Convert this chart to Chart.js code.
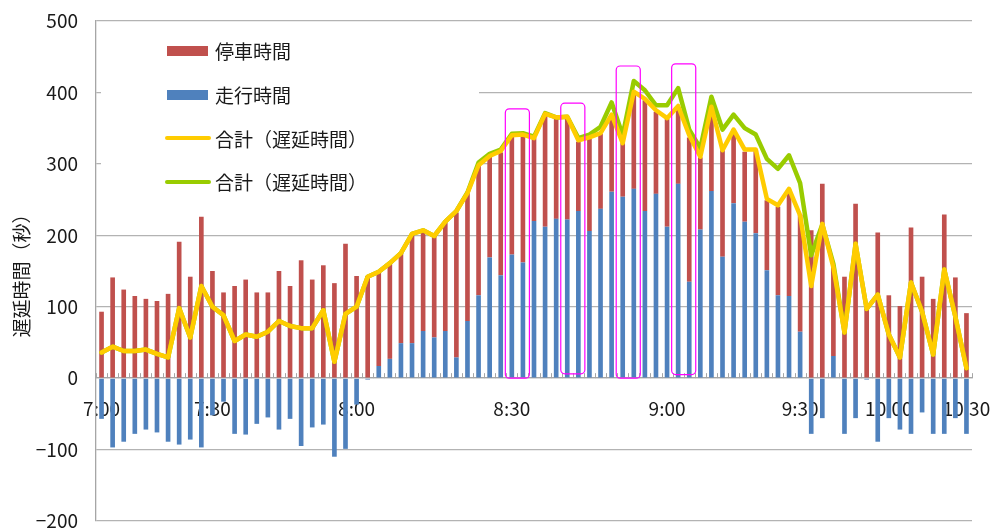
<!DOCTYPE html>
<html lang="ja">
<head>
<meta charset="utf-8">
<title>遅延時間の内訳</title>
<script src="https://cdn.jsdelivr.net/npm/chart.js@4.4.1/dist/chart.umd.min.js"></script>
<style>
  body { margin: 0; background: #fff; }
  #wrap { position: relative; width: 991px; height: 530px; }
  #legend { position: absolute; left: 165px; top: 29px; font-family: "Noto Sans CJK JP", sans-serif; font-size: 19px; color: #1a1a1a; }
  .item { display: flex; align-items: center; height: 43.7px; white-space: nowrap; }
  .box { width: 41px; height: 10px; margin: 0 7px 0 2px; }
  .line { width: 46px; height: 4px; margin-right: 4px; border-radius: 2px; }
</style>
</head>
<body>
<div id="wrap">
  <canvas id="delayChart" width="991" height="530"></canvas>
  <div id="legend"></div>
</div>
<script>
// 時刻目盛（列番号と表示文字）
const tickIndex = [0, 10, 23, 37, 51, 63, 71, 78];
const tickText = ['7:00', '7:30', '8:00', '8:30', '9:00', '9:30', '10:00', '10:30'];

// 停車時間（秒）
const stopTime = [
  93, 141, 124, 115, 111, 108, 118, 191, 142, 226,
  150, 120, 129, 138, 120, 120, 150, 129, 165, 138,
  158, 133, 188, 143, 143, 131, 134, 127, 152, 139,
  142, 152, 203, 180, 181, 141, 172, 167, 178, 116,
  156, 141, 143, 97, 129, 105, 105, 75, 133, 155,
  115, 151, 105, 202, 101, 116, 149, 103, 98, 116,
  98, 124, 149, 164, 207, 272, 125, 142, 244, 97,
  204, 116, 101, 211, 142, 111, 229, 141, 91
];

// 走行時間（秒）
const runTime = [
  -57, -97, -89, -78, -72, -76, -89, -93, -86, -97,
  -52, -33, -78, -79, -64, -55, -72, -57, -95, -69,
  -65, -110, -99, -37, -2, 17, 27, 49, 49, 66,
  57, 66, 29, 80, 116, 169, 144, 173, 162, 220,
  212, 223, 222, 234, 206, 237, 261, 254, 265, 234,
  258, 212, 272, 135, 208, 262, 170, 245, 219, 203,
  151, 116, 115, 65, -78, -56, 31, -78, -56, -2,
  -89, -56, -72, -78, -48, -78, -78, -56, -78
];

// 合計（遅延時間）黄
const totalDelay = [
  36, 44, 38, 38, 40, 34, 29, 98, 57, 129,
  100, 88, 52, 61, 58, 65, 80, 73, 70, 70,
  95, 23, 90, 100, 142, 149, 161, 175, 202, 207,
  199, 219, 234, 259, 298, 311, 318, 340, 341, 336,
  370, 365, 366, 333, 337, 343, 369, 329, 401, 391,
  375, 364, 381, 340, 310, 380, 319, 348, 320, 320,
  251, 242, 265, 228, 129, 216, 155, 64, 188, 97,
  117, 61, 29, 134, 93, 33, 152, 86, 14
];

// 合計（遅延時間）緑
const totalDelay2 = [
  36, 44, 38, 38, 40, 34, 29, 98, 57, 129,
  100, 88, 52, 61, 58, 65, 80, 73, 70, 70,
  95, 23, 90, 100, 142, 149, 161, 175, 202, 207,
  199, 219, 234, 260, 302, 314, 320, 342, 343, 338,
  371, 365, 366, 336, 341, 352, 386, 340, 416, 403,
  382, 382, 406, 348, 322, 394, 348, 369, 350, 341,
  307, 293, 312, 273, 172, 215, 160, 64, 188, 97,
  117, 61, 29, 134, 93, 33, 152, 86, 14
];

// 囲み枠（開始列, 終了列, 上端, 下端）
const boxFrom = [37, 42, 47, 52];
const boxTo = [38, 43, 48, 53];
const boxTop = [377, 385, 437, 440];
const boxBottom = [0, 6, 0, 5];

const FONT = '"Noto Sans CJK JP", sans-serif';
const TEXT = '#1a1a1a';
const AXIS = '#a6a6a6';

const labels = stopTime.map((v, i) => {
  const k = tickIndex.indexOf(i);
  return k >= 0 ? tickText[k] : '';
});

const datasets = [
  {
    type: 'line', label: '合計（遅延時間）', data: totalDelay, stack: 'total',
    borderColor: '#ffcc00', borderWidth: 4.5, pointRadius: 0, tension: 0,
    borderJoinStyle: 'round', borderCapStyle: 'round'
  },
  {
    type: 'line', label: '合計（遅延時間）', data: totalDelay2, stack: 'total2',
    borderColor: '#99cc00', borderWidth: 4.5, pointRadius: 0, tension: 0,
    borderJoinStyle: 'round', borderCapStyle: 'round'
  },
  {
    type: 'bar', label: '走行時間', data: runTime, stack: 'bars',
    backgroundColor: '#4f81bd', barPercentage: 0.42, categoryPercentage: 1
  },
  {
    type: 'bar', label: '停車時間', data: stopTime, stack: 'bars',
    backgroundColor: '#c0504d', barPercentage: 0.42, categoryPercentage: 1
  }
];

// 凡例の背後の目盛線を白で隠す
const legendBackdrop = {
  id: 'legendBackdrop',
  beforeDatasetsDraw(chart) {
    const { ctx, chartArea } = chart;
    ctx.save();
    ctx.fillStyle = '#fff';
    ctx.fillRect(chartArea.left + 5, chartArea.top + 2, 479 - chartArea.left - 5, 150);
    ctx.restore();
  }
};

// 0 の軸上に列ごとの小さな目盛
const zeroTicks = {
  id: 'zeroTicks',
  beforeDatasetsDraw(chart) {
    const { ctx } = chart;
    const x = chart.scales.x, y = chart.scales.y;
    const y0 = y.getPixelForValue(0);
    const half = (x.getPixelForValue(1) - x.getPixelForValue(0)) / 2;
    ctx.save();
    ctx.strokeStyle = AXIS;
    ctx.lineWidth = 1;
    ctx.beginPath();
    for (let i = 0; i <= stopTime.length; i++) {
      const px = Math.round(x.getPixelForValue(i) - half) + 0.5;
      ctx.moveTo(px, y0);
      ctx.lineTo(px, y0 - 5);
    }
    ctx.stroke();
    ctx.restore();
  }
};

// ピンクの囲み枠
const highlightBoxes = {
  id: 'highlightBoxes',
  afterDatasetsDraw(chart) {
    const { ctx } = chart;
    const x = chart.scales.x, y = chart.scales.y;
    ctx.save();
    ctx.strokeStyle = '#ff00ff';
    ctx.lineWidth = 1.2;
    boxFrom.forEach((from, k) => {
      const left = x.getPixelForValue(from) - 6.5;
      const right = x.getPixelForValue(boxTo[k]) + 6.5;
      const top = y.getPixelForValue(boxTop[k]);
      const bottom = y.getPixelForValue(boxBottom[k]);
      ctx.beginPath();
      ctx.roundRect(left, top, right - left, bottom - top, 4);
      ctx.stroke();
    });
    ctx.restore();
  }
};

const ctx = document.getElementById('delayChart').getContext('2d');
new Chart(ctx, {
  type: 'bar',
  data: { labels, datasets },
  plugins: [legendBackdrop, zeroTicks, highlightBoxes],
  options: {
    responsive: false,
    animation: false,
    layout: { padding: { top: 21, right: 19, bottom: 9, left: 0 } },
    plugins: { legend: { display: false }, tooltip: { enabled: false } },
    scales: {
      x: {
        position: { y: 0 },
        stacked: true,
        z: 1,
        afterFit(scale) {
          scale.paddingLeft = 0;
          scale.paddingRight = 0;
        },
        grid: { display: false, drawTicks: false },
        border: { color: AXIS, width: 1.3 },
        ticks: {
          autoSkip: false, maxRotation: 0, padding: 19,
          color: TEXT, font: { family: FONT, size: 19 },
          callback: (v, i) => labels[i]
        }
      },
      y: {
        min: -200, max: 500, stacked: true,
        afterFit(scale) {
          scale.width = 96;
          scale.paddingTop = 0;
          scale.paddingBottom = 0;
        },
        grid: { color: '#b3b3b3', lineWidth: 1.3, drawTicks: false },
        border: { color: AXIS, width: 1.3 },
        ticks: {
          stepSize: 100, padding: 18, color: TEXT,
          font: { family: FONT, size: 19, lineHeight: 0.9 },
          callback: v => (v < 0 ? '−' + Math.abs(v) : String(v))
        },
        title: {
          display: true, text: '遅延時間（秒）', color: TEXT,
          font: { family: FONT, size: 19 },
          padding: { top: 10, bottom: 0 }
        }
      }
    }
  }
});

// 凡例（停車時間・走行時間・合計の順）
const legendOrder = [3, 2, 0, 1];
document.getElementById('legend').innerHTML = legendOrder.map(i => {
  const ds = datasets[i];
  const color = ds.type === 'bar' ? ds.backgroundColor : ds.borderColor;
  const cls = ds.type === 'bar' ? 'box' : 'line';
  return `<div class="item"><span class="${cls}" style="background:${color}"></span>${ds.label}</div>`;
}).join('');
</script>
</body>
</html>
